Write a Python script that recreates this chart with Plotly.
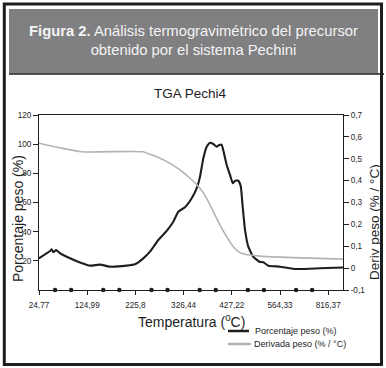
import plotly.graph_objects as go

# ---------------- data ----------------
x_tick_labels = ["24,77", "124,99", "225,8", "326,44", "427,22", "564,33", "816,37"]
x_tick_pos = [0, 1, 2, 3, 4, 5, 6]
x_dot_pos = [k + f for k in range(6) for f in (1 / 3, 2 / 3)]

black_x = [0.0, 0.228, 0.263, 0.297, 0.353, 0.436, 0.575, 0.851, 1.058, 1.266, 1.473,
           1.820, 1.992, 2.164, 2.303, 2.475, 2.649, 2.786, 2.890, 3.029, 3.168, 3.272,
           3.340, 3.409, 3.479, 3.548, 3.616, 3.687, 3.741, 3.790, 3.838, 3.894, 3.963,
           4.019, 4.066, 4.135, 4.185, 4.226, 4.274, 4.342, 4.446, 4.571, 4.653, 4.757,
           5.000, 5.346, 5.830, 6.307]
black_y = [21.7, 26.7, 27.9, 25.9, 27.4, 25.2, 22.8, 18.9, 16.7, 17.4, 16.0,
           16.7, 17.6, 21.7, 26.3, 34.3, 40.5, 46.8, 53.7, 56.7, 62.9, 69.8,
           77.7, 90.3, 98.3, 101.0, 100.1, 98.3, 99.5, 99.5, 93.8, 85.7, 78.9,
           73.2, 74.8, 75.0, 71.3, 57.1, 41.2, 29.7, 22.8, 19.4, 19.0, 16.7,
           16.0, 14.4, 14.9, 15.4]

gray_x = [0.0, 0.436, 0.886, 2.164, 2.303, 2.442, 2.718, 2.925, 3.133, 3.340, 3.479,
          3.616, 3.755, 3.894, 4.031, 4.170, 4.274, 4.585, 5.276, 6.307]
gray_y = [0.571, 0.550, 0.532, 0.532, 0.520, 0.509, 0.479, 0.449, 0.411, 0.365, 0.319,
          0.258, 0.197, 0.144, 0.098, 0.071, 0.063, 0.055, 0.048, 0.041]

left_ticks = [20, 40, 60, 80, 100, 120]
right_ticks = [-0.1, 0, 0.1, 0.2, 0.3, 0.4, 0.5, 0.6, 0.7]
right_tick_labels = ["-0,1", "0", "0,1", "0,2", "0,3", "0,4", "0,5", "0,6", "0,7"]

name_black = "Porcentaje peso (%)"
name_gray = "Derivada peso (% / °C)"

# ---------------- layout helpers ----------------
W, H = 386, 368
L, R, T, B = 39, 343, 115, 290


def px(x):
    return (x - L) / (R - L)


def py(y):
    return (B - y) / (B - T)


SANS = "Liberation Sans, Arial, sans-serif"
TICKFONT = dict(family=SANS, size=8.2, color="#1e1e1e")

fig = go.Figure()
fig.add_trace(go.Scatter(x=gray_x, y=gray_y, yaxis="y2", mode="lines", name=name_gray,
                         line=dict(color="#b3b3b3", width=1.6, shape="spline", smoothing=0.6),
                         showlegend=False))
fig.add_trace(go.Scatter(x=black_x, y=black_y, mode="lines", name=name_black,
                         line=dict(color="#1e1e1e", width=2.1, shape="spline", smoothing=0.4),
                         showlegend=False))
fig.add_trace(go.Scatter(x=x_dot_pos, y=[0] * len(x_dot_pos), mode="markers",
                         marker=dict(color="#1e1e1e", size=4.5), cliponaxis=False,
                         showlegend=False, hoverinfo="skip"))

fig.update_layout(
    width=W, height=H,
    margin=dict(l=L, r=W - R, t=T, b=H - B),
    paper_bgcolor="white", plot_bgcolor="white",
    font=dict(family=SANS, color="#1e1e1e"),
    showlegend=False,
    xaxis=dict(range=[0, 6.307], tickvals=x_tick_pos, ticktext=x_tick_labels,
               showgrid=False, zeroline=False, showline=True, linecolor="#1e1e1e",
               linewidth=1, mirror=True, ticks="outside", ticklen=4, tickwidth=1,
               tickcolor="#1e1e1e", tickfont=TICKFONT, ticklabelstandoff=3),
    yaxis=dict(range=[0, 120], tickvals=left_ticks, showgrid=False, zeroline=False,
               showline=True, linecolor="#1e1e1e", linewidth=1, mirror=True,
               ticks="outside", ticklen=5, tickwidth=1, tickcolor="#1e1e1e",
               tickfont=TICKFONT),
    yaxis2=dict(range=[-0.1, 0.7], overlaying="y", side="right", tickvals=right_ticks,
                ticktext=right_tick_labels, showgrid=False, zeroline=False,
                showline=True, linecolor="#1e1e1e", linewidth=1,
                ticks="outside", ticklen=5, tickwidth=1, tickcolor="#1e1e1e",
                tickfont=TICKFONT),
)

shapes = [
    # outer frame
    dict(type="rect", xref="paper", yref="paper", x0=px(4.3), x1=px(381.5),
         y0=py(364.5), y1=py(4), line=dict(color="#1e1e1e", width=3), layer="below"),
    # title box
    dict(type="rect", xref="paper", yref="paper", x0=px(9), x1=px(378),
         y0=py(73.5), y1=py(9), fillcolor="#808082", line=dict(width=0), layer="below"),
    dict(type="line", xref="paper", yref="paper", x0=px(9), x1=px(384),
         y0=py(74), y1=py(74), line=dict(color="#1e1e1e", width=1.5)),
    # legend samples
    dict(type="line", xref="paper", yref="paper", x0=px(228), x1=px(249),
         y0=py(331), y1=py(331), line=dict(color="#1e1e1e", width=2.5)),
    dict(type="line", xref="paper", yref="paper", x0=px(228), x1=px(251),
         y0=py(344), y1=py(344), line=dict(color="#b3b3b3", width=2.5)),
]
fig.update_layout(shapes=shapes)

ann = [
    dict(text="<b>Figura 2.</b> Análisis termogravimétrico del precursor<br>obtenido por el sistema Pechini",
         x=px(194), y=py(40), font=dict(family=SANS, size=14.8, color="#f4f4f4")),
    dict(text="TGA Pechi4", x=px(190), y=py(93), font=dict(family=SANS, size=13.5)),
    dict(text="Porcentaje peso (%)", x=px(18), y=py(219), textangle=-90,
         font=dict(family=SANS, size=14)),
    dict(text="Deriv peso (% / °C)", x=px(374), y=py(222), textangle=-90,
         font=dict(family=SANS, size=13.5)),
    dict(text="Temperatura (<sup>0</sup>C)", x=px(191), y=py(321),
         font=dict(family=SANS, size=14)),
    dict(text=name_black, x=px(253), y=py(331), xanchor="left",
         font=dict(family=SANS, size=9)),
    dict(text=name_gray, x=px(252), y=py(344), xanchor="left",
         font=dict(family=SANS, size=9)),
]
for a in ann:
    a.setdefault("xanchor", "center")
    a.update(xref="paper", yref="paper", yanchor="middle", showarrow=False)
fig.update_layout(annotations=ann)

fig.write_html("out.html", config={"displayModeBar": False},
               post_script="document.body.style.margin='0px';")
